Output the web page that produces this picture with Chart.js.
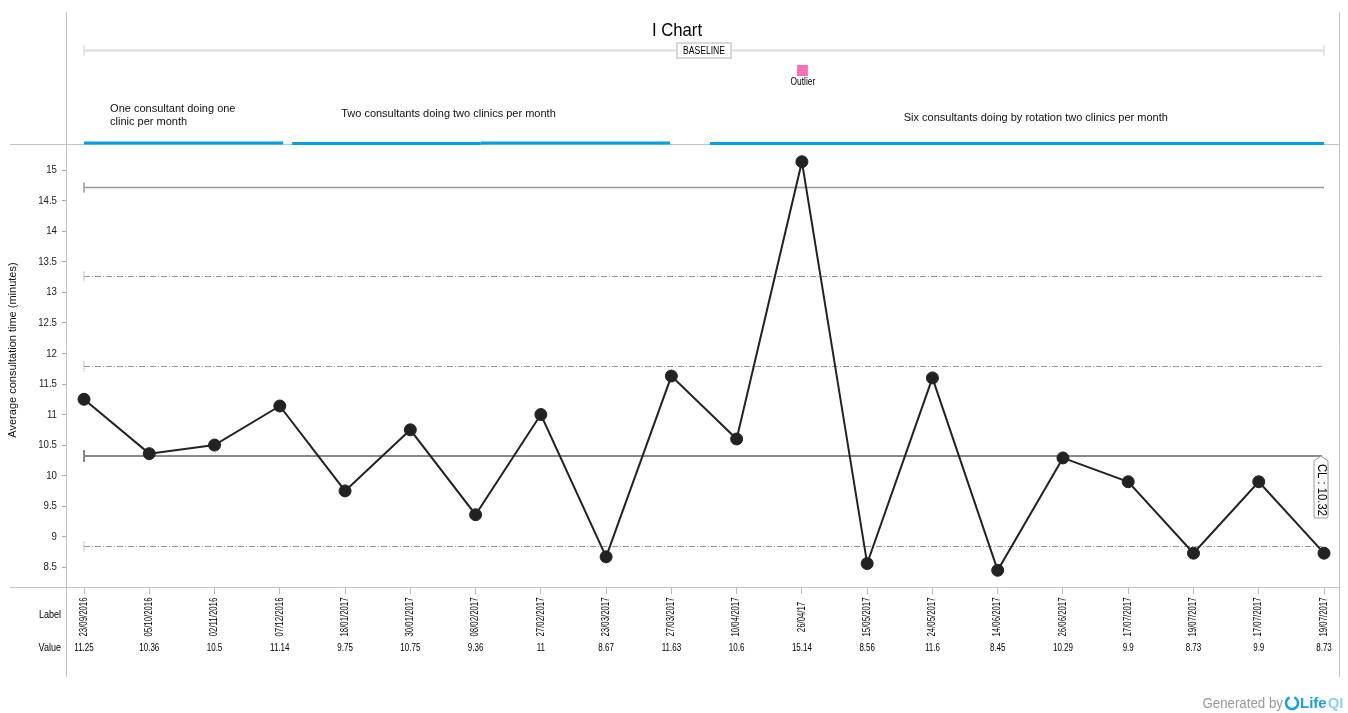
<!DOCTYPE html>
<html>
<head>
<meta charset="utf-8">
<title>I Chart</title>
<script src="https://cdn.jsdelivr.net/npm/chart.js@4.4.1/dist/chart.umd.min.js"></script>
<style>
  html, body { margin: 0; padding: 0; background: #fff; }
  #wrap { width: 1348px; height: 713px; }
</style>
</head>
<body>
<div id="wrap"><canvas id="iChart" width="1348" height="713"></canvas></div>
<script>
// data
const dateLabels = ['23/09/2016', '05/10/2016', '02/11/2016', '07/12/2016', '18/01/2017',
  '30/01/2017', '08/02/2017', '27/02/2017', '23/03/2017', '27/03/2017', '10/04/2017',
  '26/04/17', '15/05/2017', '24/05/2017', '14/06/2017', '26/06/2017', '17/07/2017',
  '19/07/2017', '17/07/2017', '19/07/2017'];
const consultTimes = [11.25, 10.36, 10.5, 11.14, 9.75, 10.75, 9.36, 11, 8.67, 11.63,
  10.6, 15.14, 8.56, 11.6, 8.45, 10.29, 9.9, 8.73, 9.9, 8.73];
const yTickValues = [8.5, 9, 9.5, 10, 10.5, 11, 11.5, 12, 12.5, 13, 13.5, 14, 14.5, 15];
const centreLine = 10.32;
const upperLimit = 14.72;
const sigmaLines = [13.27, 11.79, 8.85];
const outlierIndex = 11;
const phaseTexts = [
  ['One consultant doing one', 'clinic per month'],
  ['Two consultants doing two clinics per month'],
  ['Six consultants doing by rotation two clinics per month']
];

const SANS = "'Liberation Sans', Arial, sans-serif";
const BLUE = '#00a0e4';

function hline(ctx, xa, xb, yy, color, width, dash) {
  ctx.save();
  ctx.strokeStyle = color;
  ctx.lineWidth = width;
  ctx.setLineDash(dash || []);
  ctx.beginPath();
  ctx.moveTo(xa, yy);
  ctx.lineTo(xb, yy);
  ctx.stroke();
  ctx.restore();
}

function vline(ctx, xx, ya, yb, color, width, dash) {
  ctx.save();
  ctx.strokeStyle = color;
  ctx.lineWidth = width;
  ctx.setLineDash(dash || []);
  ctx.beginPath();
  ctx.moveTo(xx, ya);
  ctx.lineTo(xx, yb);
  ctx.stroke();
  ctx.restore();
}

// narrow text: the reference uses a condensed face, so squeeze Liberation Sans
function narrowText(ctx, text, xx, yy, size, align, squeeze, angle) {
  ctx.save();
  ctx.translate(xx, yy);
  if (angle) ctx.rotate(angle);
  ctx.scale(squeeze, 1);
  ctx.font = size + 'px ' + SANS;
  ctx.textAlign = align;
  ctx.textBaseline = 'middle';
  ctx.fillText(text, 0, 0);
  ctx.restore();
}

const decor = {
  id: 'decor',
  beforeDatasetsDraw(chart) {
    const { ctx, scales: { x, y } } = chart;
    const x0 = x.getPixelForValue(0);
    const x1 = x.getPixelForValue(dateLabels.length - 1);
    const dashDot = [6, 2, 1, 2];

    // upper control limit
    const yu = Math.round(y.getPixelForValue(upperLimit)) + 0.5;
    hline(ctx, x0, x1, yu, '#999', 1.5);
    vline(ctx, x0, yu - 5, yu + 5, '#999', 1.5);

    // sigma lines
    sigmaLines.forEach(v => {
      const yy = Math.round(y.getPixelForValue(v)) + 0.5;
      hline(ctx, x0, x1, yy, '#999', 1, dashDot);
      vline(ctx, x0, yy - 5, yy + 5, '#aaa', 1, [2, 1]);
    });

    // centre line
    const yc = Math.round(y.getPixelForValue(centreLine));
    hline(ctx, x0, x1 - 2, yc, '#888', 2);
    vline(ctx, x0, yc - 6, yc + 6, '#888', 2);
  },
  afterDraw(chart) {
    const { ctx, chartArea: area, scales: { x, y } } = chart;
    const px = i => x.getPixelForValue(i);

    // frame lines
    vline(ctx, 66.5, 12, 677, '#c4c4c4', 1);
    vline(ctx, area.right - 0.5, 12, 677, '#c4c4c4', 1);
    hline(ctx, 10, area.right, area.top + 0.5, '#c4c4c4', 1);
    hline(ctx, 10, area.right, area.bottom - 0.5, '#c4c4c4', 1);

    // y tick labels and axis title
    ctx.fillStyle = '#222';
    y.ticks.forEach(t => {
      narrowText(ctx, String(t.value), 57, y.getPixelForValue(t.value), 11, 'right', 0.88);
    });
    ctx.fillStyle = '#111';
    narrowText(ctx, 'Average consultation time (minutes)', 13, 350, 11, 'center', 1, -Math.PI / 2);

    // title
    ctx.fillStyle = '#000';
    narrowText(ctx, 'I Chart', 677, 31, 19, 'center', 0.88);

    // baseline bar
    const b0 = px(0), b1 = px(dateLabels.length - 1);
    hline(ctx, b0, b1, 50.5, '#dcdcdc', 2);
    vline(ctx, b0, 45, 56, '#dcdcdc', 1.5);
    vline(ctx, b1, 45, 56, '#dcdcdc', 1.5);
    const bc = px((dateLabels.length - 1) / 2);
    ctx.save();
    ctx.fillStyle = '#fff';
    ctx.fillRect(bc - 27, 43, 54, 15);
    ctx.strokeStyle = '#d8d8d8';
    ctx.lineWidth = 2;
    ctx.strokeRect(bc - 27, 43, 54, 15);
    ctx.restore();
    ctx.fillStyle = '#000';
    narrowText(ctx, 'BASELINE', bc, 51, 10, 'center', 0.86);

    // outlier marker
    const ox = px(outlierIndex);
    ctx.fillStyle = '#ff6eb4';
    ctx.fillRect(ox - 5, 65, 11, 11);
    ctx.fillStyle = '#000';
    narrowText(ctx, 'Outlier', ox + 1, 82, 10, 'center', 0.84);

    // phase bars and notes
    const yb = area.top - 1;
    hline(ctx, px(0), px(3.05), yb, BLUE, 3);
    hline(ctx, px(3.19), px(6.08), yb + 0.5, BLUE, 3);
    hline(ctx, px(6.08), px(8.98), yb, BLUE, 3);
    hline(ctx, px(9.59), px(dateLabels.length - 1), yb + 0.5, BLUE, 3);

    ctx.save();
    ctx.fillStyle = '#111';
    ctx.font = '11px ' + SANS;
    ctx.textAlign = 'left';
    ctx.textBaseline = 'middle';
    ctx.fillText(phaseTexts[0][0], px(0.4), 109);
    ctx.fillText(phaseTexts[0][1], px(0.4), 122);
    ctx.fillText(phaseTexts[1][0], px(3.94), 114);
    ctx.fillText(phaseTexts[2][0], px(12.56), 118);
    ctx.restore();

    // CL label box
    const cx = px(dateLabels.length - 1) - 3;
    const cy = Math.round(y.getPixelForValue(centreLine));
    ctx.save();
    ctx.beginPath();
    ctx.moveTo(cx, cy);
    ctx.lineTo(cx + 7, cy + 5);
    ctx.lineTo(cx + 7, cy + 60);
    ctx.quadraticCurveTo(cx + 7, cy + 62, cx + 5, cy + 62);
    ctx.lineTo(cx - 5, cy + 62);
    ctx.quadraticCurveTo(cx - 7, cy + 62, cx - 7, cy + 60);
    ctx.lineTo(cx - 7, cy + 5);
    ctx.closePath();
    ctx.fillStyle = '#fff';
    ctx.fill();
    ctx.strokeStyle = '#999';
    ctx.lineWidth = 1;
    ctx.stroke();
    ctx.restore();
    ctx.fillStyle = '#000';
    narrowText(ctx, 'CL : ' + centreLine, cx + 1, cy + 34, 13, 'center', 0.87, Math.PI / 2);

    // label / value table under the axis
    ctx.fillStyle = '#000';
    narrowText(ctx, 'Label', 61, 615, 11, 'right', 0.82);
    narrowText(ctx, 'Value', 61, 648, 11, 'right', 0.82);
    dateLabels.forEach((d, i) => {
      narrowText(ctx, d, px(i), 617, 10, 'center', 0.78, -Math.PI / 2);
      narrowText(ctx, String(consultTimes[i]), px(i), 648, 10, 'center', 0.8);
    });

    // footer
    ctx.fillStyle = '#9a9a9a';
    narrowText(ctx, 'Generated by', 1283, 704, 14, 'right', 0.95);
    ctx.save();
    ctx.strokeStyle = '#1a9ee6';
    ctx.lineWidth = 2.6;
    ctx.beginPath();
    ctx.arc(1292, 703, 6, -1.2, 4.3);
    ctx.stroke();
    ctx.textBaseline = 'middle';
    ctx.textAlign = 'left';
    ctx.font = 'bold 15px ' + SANS;
    ctx.fillStyle = '#1a9ee6';
    ctx.fillText('Life', 1300, 704);
    const lw = ctx.measureText('Life').width;
    ctx.fillStyle = '#8fd0f3';
    ctx.fillText('QI', 1300 + lw + 1, 704);
    ctx.restore();
  }
};

new Chart(document.getElementById('iChart'), {
  type: 'line',
  data: {
    datasets: [{
      data: consultTimes.map((v, i) => ({ x: i, y: v })),
      borderColor: '#222',
      borderWidth: 2,
      pointRadius: 6,
      pointBackgroundColor: '#222',
      pointBorderColor: '#222',
      pointBorderWidth: 1,
      tension: 0
    }]
  },
  options: {
    responsive: false,
    animation: false,
    events: [],
    layout: { padding: { top: 144, right: 8, left: 0, bottom: 0 } },
    plugins: { legend: { display: false }, tooltip: { enabled: false } },
    scales: {
      x: {
        type: 'linear',
        min: -0.276,
        max: 19.245,
        afterBuildTicks: s => { s.ticks = dateLabels.map((_, i) => ({ value: i })); },
        afterFit: s => { s.height = 125; },
        ticks: { display: false },
        grid: { drawOnChartArea: false, drawTicks: true, tickLength: 6, color: '#bbb' },
        border: { display: false }
      },
      y: {
        min: 8.16,
        max: 15.43,
        afterBuildTicks: s => { s.ticks = yTickValues.map(v => ({ value: v })); },
        afterFit: s => { s.width = 66; },
        ticks: { display: false },
        grid: { drawOnChartArea: false, drawTicks: true, tickLength: 4, color: '#aaa' },
        border: { display: false }
      }
    }
  },
  plugins: [decor]
});
</script>
</body>
</html>
